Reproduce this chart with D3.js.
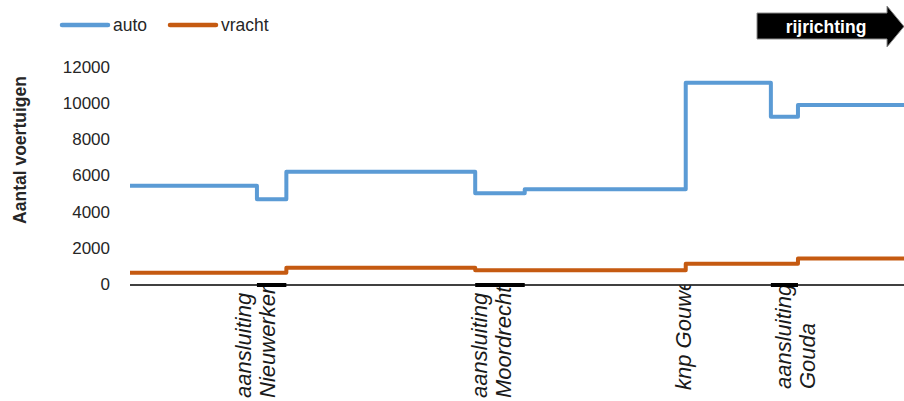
<!DOCTYPE html>
<html>
<head>
<meta charset="utf-8">
<script src="https://cdn.jsdelivr.net/npm/d3@7"></script>
<style>
  html, body { margin: 0; padding: 0; background: #fff; }
  svg { display: block; }
</style>
</head>
<body>
<svg id="chart" width="904" height="401"></svg>
<script>
// ---- data ----
// segment start positions along the road (relative position 0..100), last value = end of road
const positions = [0, 16.4, 20.2, 44.6, 51.0, 71.8, 82.8, 86.3, 100];
// vehicle counts per segment
const autoValues   = [5450, 4700, 6220, 5030, 5250, 11130, 9250, 9900];
const vrachtValues = [650, 650, 920, 790, 790, 1140, 1140, 1440];
const seriesNames = ["auto", "vracht"];
const yTicks = [0, 2000, 4000, 6000, 8000, 10000, 12000];
// junction stretches on the road (start, end)
const junctions = [[16.4, 20.2], [44.6, 51.0], [82.8, 86.3]];
// location labels
const locationNames = [["aansluiting", "Nieuwerkerk"], ["aansluiting", "Moordrecht"], ["knp Gouwe"], ["aansluiting", "Gouda"]];
const locationPos = [16.5, 46.9, 71.8, 86.2];
const locationBottom = [398, 398, 390, 389];

// ---- setup ----
const svg = d3.select("#chart");
const colors = { auto: "#5B9BD5", vracht: "#C55A11" };
const x = d3.scaleLinear().domain([0, 100]).range([130, 904]);
const y = d3.scaleLinear().domain([0, 12000]).range([284.5, 67]);

// y axis
const yAxis = svg.append("g")
  .attr("transform", `translate(${x(0)},0)`)
  .call(d3.axisLeft(y).tickValues(yTicks).tickSize(0).tickPadding(20).tickFormat(d3.format("d")));
yAxis.select(".domain").remove();
yAxis.selectAll("text")
  .attr("font-family", "'Liberation Sans', Arial, sans-serif")
  .attr("font-size", 17)
  .attr("fill", "#262626")
  .attr("dy", "0.3em");

// y axis title
svg.append("text")
  .attr("transform", `translate(26,${(70 + 230) / 2}) rotate(-90)`)
  .attr("text-anchor", "middle")
  .attr("font-family", "'Liberation Sans', Arial, sans-serif")
  .attr("font-weight", "bold")
  .attr("font-size", 17.5)
  .attr("fill", "#262626")
  .text("Aantal voertuigen");

// step lines
const line = d3.line()
  .x(d => x(d[0]))
  .y(d => y(d[1]))
  .curve(d3.curveStepAfter);

function pts(vals) {
  const p = vals.map((v, i) => [positions[i], v]);
  p.push([positions[positions.length - 1], vals[vals.length - 1]]);
  return p;
}
[["vracht", vrachtValues], ["auto", autoValues]].forEach(([name, vals]) => {
  svg.append("path")
    .datum(pts(vals))
    .attr("d", line)
    .attr("fill", "none")
    .attr("stroke", colors[name])
    .attr("stroke-width", 4)
    .attr("stroke-linejoin", "round")
    .attr("stroke-linecap", "butt");
});

// location labels (clipped below the axis)
svg.append("clipPath").attr("id", "belowAxis")
  .append("rect").attr("x", 0).attr("y", y(0) + 1).attr("width", 904).attr("height", 401);
const labG = svg.append("g").attr("clip-path", "url(#belowAxis)");
locationNames.forEach((lines, i) => {
  const n = lines.length;
  const gap = 24;
  const cx = x(locationPos[i]);
  lines.forEach((t, j) => {
    const bx = cx + 5.5 + (j - (n - 1) / 2) * gap;
    labG.append("text")
      .attr("transform", `translate(${bx},${locationBottom[i]}) rotate(-90)`)
      .attr("text-anchor", "start")
      .attr("font-family", "'Liberation Sans', Arial, sans-serif")
      .attr("font-style", "italic")
      .attr("font-size", 22)
      .attr("fill", "#1a1a1a")
      .text(t);
  });
});

// x axis line
svg.append("line")
  .attr("x1", x(0)).attr("x2", x(100))
  .attr("y1", y(0) + 0.5).attr("y2", y(0) + 0.5)
  .attr("stroke", "#000").attr("stroke-width", 1.5);

// junction marks
svg.selectAll(".junction").data(junctions).enter().append("rect")
  .attr("class", "junction")
  .attr("x", d => x(d[0]))
  .attr("width", d => x(d[1]) - x(d[0]))
  .attr("y", y(0) - 1.5)
  .attr("height", 4)
  .attr("fill", "#000");

// legend
const legendX = [62, 170];
seriesNames.forEach((name, i) => {
  const g = svg.append("g").attr("transform", `translate(${legendX[i]},25)`);
  g.append("line").attr("x1", 0).attr("x2", 46).attr("y1", 0).attr("y2", 0)
    .attr("stroke", colors[name]).attr("stroke-width", 4.5).attr("stroke-linecap", "round");
  g.append("text").attr("x", 51).attr("y", 6)
    .attr("font-family", "'Liberation Sans', Arial, sans-serif")
    .attr("font-size", 17.5)
    .attr("fill", "#262626")
    .text(name);
});

// direction arrow
const arrow = svg.append("g");
arrow.append("path")
  .attr("d", "M757,13 L887,13 L887,6 L904,26.5 L887,47 L887,39 L757,39 Z")
  .attr("fill", "#000")
  .attr("stroke", "#8c8c8c")
  .attr("stroke-width", 1);
arrow.append("text")
  .attr("x", 826).attr("y", 32.5)
  .attr("text-anchor", "middle")
  .attr("font-family", "'Liberation Sans', Arial, sans-serif")
  .attr("font-weight", "bold")
  .attr("font-size", 17.5)
  .attr("fill", "#fff")
  .text("rijrichting");
</script>
</body>
</html>
